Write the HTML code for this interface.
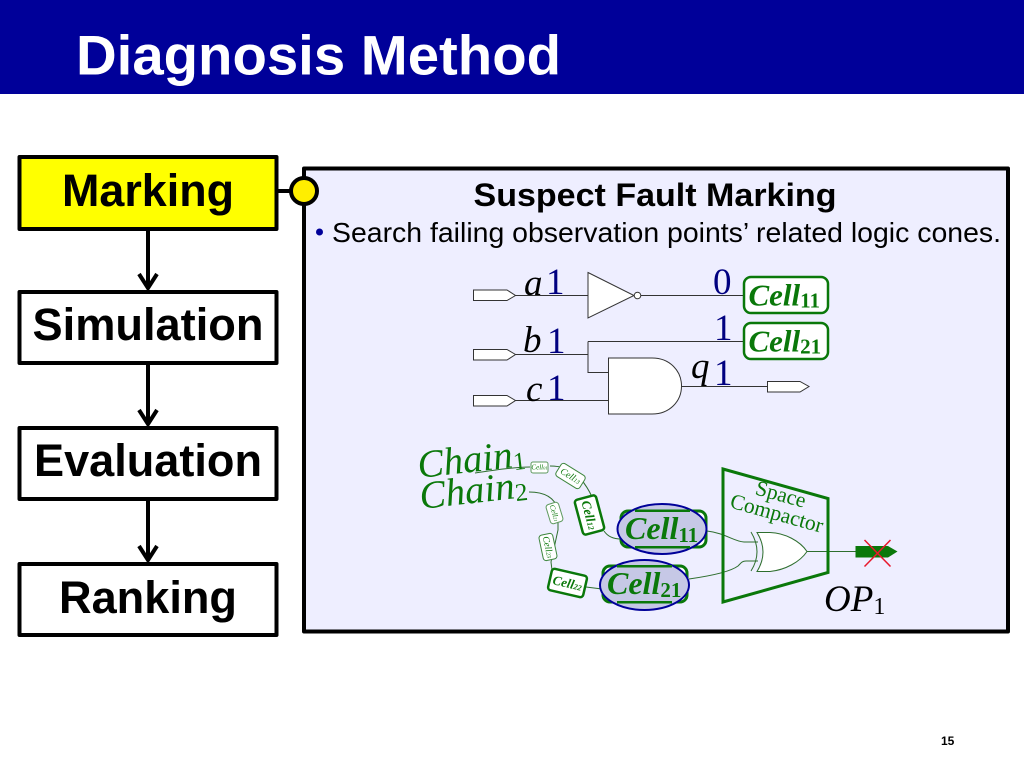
<!DOCTYPE html>
<html><head><meta charset="utf-8"><style>
html,body{margin:0;padding:0;background:#fff;width:1024px;height:768px;overflow:hidden}
svg{display:block}
.s{font-family:"Liberation Sans",sans-serif}
.r{font-family:"Liberation Serif",serif}
.i{font-family:"Liberation Serif",serif;font-style:italic}
.b{font-weight:bold}
.w{fill:none;stroke:#333;stroke-width:1}
.g{fill:none;stroke:#2e6e2e;stroke-width:1}
.c{fill:#fff;stroke:#0a780a}
.gt{fill:#0a780a}
</style></head><body>
<svg width="1024" height="768" viewBox="0 0 1024 768" xmlns="http://www.w3.org/2000/svg">
<rect x="0" y="0" width="1024" height="94" fill="#000099"/>
<text x="76" y="74.5" class="s b" font-size="56" fill="#fff" textLength="485" lengthAdjust="spacingAndGlyphs">Diagnosis Method</text>

<!-- flow -->
<g stroke="#000" stroke-width="4" fill="none">
<path d="M148 230V287M139 274L148 288L157 274"/>
<path d="M148 364V423M139 410L148 424L157 410"/>
<path d="M148 500V559M139 546L148 560L157 546"/>
<path d="M277 191H292"/>
</g>
<g stroke="#000" stroke-width="4" stroke-linejoin="round">
<rect x="19.5" y="157" width="257" height="72" fill="#ffff00"/>
<rect x="19.5" y="292" width="257" height="71" fill="#fff"/>
<rect x="19.5" y="428" width="257" height="71" fill="#fff"/>
<rect x="19.5" y="564" width="257" height="71" fill="#fff"/>
</g>
<g class="s b" font-size="45" text-anchor="middle" fill="#000">
<text x="148" y="206" textLength="172" lengthAdjust="spacingAndGlyphs">Marking</text>
<text x="148" y="340" textLength="231" lengthAdjust="spacingAndGlyphs">Simulation</text>
<text x="148" y="476" textLength="228" lengthAdjust="spacingAndGlyphs">Evaluation</text>
<text x="148" y="613" textLength="178" lengthAdjust="spacingAndGlyphs">Ranking</text>
</g>

<!-- panel -->
<rect x="304" y="168.5" width="704" height="463" fill="#eeeeff" stroke="#000" stroke-width="4" stroke-linejoin="round"/>
<circle cx="304" cy="191" r="13" fill="#ffee00" stroke="#000" stroke-width="4"/>
<text x="655" y="206" class="s b" font-size="32" text-anchor="middle" textLength="363" lengthAdjust="spacingAndGlyphs">Suspect Fault Marking</text>
<circle cx="319.5" cy="232" r="3.5" fill="#000099"/>
<text x="332" y="242" class="s" font-size="28" textLength="669" lengthAdjust="spacingAndGlyphs">Search failing observation points’ related logic cones.</text>

<!-- logic -->
<g class="w">
<path d="M515 295.5H588M641 295.5H743"/>
<path d="M515 354.5H588M588 341.5H743M588 341.5V372.5H608"/>
<path d="M515 400.5H608M682 386.5H767"/>
</g>
<g fill="#fff" stroke="#333" stroke-width="1">
<path d="M473.5 290H507L515.5 295.5L507 300.5H473.5Z"/>
<path d="M473.5 349.5H507L515.5 354.5L507 360H473.5Z"/>
<path d="M473.5 395.5H507L515.5 400.5L507 406H473.5Z"/>
<path d="M767.5 381.5H800L809 386.5L800 392H767.5Z"/>
<path d="M588 272.5L634 295.5L588 318Z"/>
<circle cx="637.5" cy="295.5" r="3.3"/>
<path d="M608.5 358H652C670 358 681.5 371 681.5 386C681.5 401 670 414 652 414H608.5Z"/>
</g>
<g class="i" font-size="37" fill="#000">
<text x="524" y="295">a</text>
<text x="523" y="352">b</text>
<text x="526" y="401">c</text>
<text x="691" y="378">q</text>
</g>
<g class="r" font-size="37" fill="#000080">
<text x="546" y="294">1</text>
<text x="547" y="353">1</text>
<text x="547" y="400">1</text>
<text x="713" y="294">0</text>
<text x="714" y="340">1</text>
<text x="714" y="385">1</text>
</g>
<g class="c" stroke-width="2.5">
<rect x="744" y="277" width="84" height="36" rx="7"/>
<rect x="744" y="323" width="84" height="36" rx="7"/>
</g>
<g class="i b gt" font-size="31">
<text x="748.5" y="305.5">Cell<tspan class="r" font-style="normal" font-size="21" dy="2">11</tspan></text>
<text x="748.5" y="351.5">Cell<tspan class="r" font-style="normal" font-size="21" dy="2">21</tspan></text>
</g>

<!-- chains -->
<g class="g">
<path d="M475 473C495 470 515 467 530 467M550 466C560 466 570 468 580 478C585 484 589 490 592 497"/>
<path d="M604 531C608 537 615 539 621 539"/>
<path d="M529 492C545 492 555 498 558 510V530L551 562L552 570"/>
<path d="M586 587L602 589"/>
<path d="M707 531C725 533 735 542 744 542H758"/>
<path d="M689 579C710 576 730 572 738 566C741 563 742 561 746 561H758"/>
<path d="M807 551.5H856"/>
</g>
<text transform="translate(419 478) rotate(-6.5)" class="i gt" font-size="39">Chain<tspan class="r" font-style="normal" font-size="25" dy="3">1</tspan></text>
<text transform="translate(421 509) rotate(-6.5)" class="i gt" font-size="39">Chain<tspan class="r" font-style="normal" font-size="25" dy="3">2</tspan></text>

<g transform="translate(539.5 467.5)">
<rect x="-8.5" y="-5.5" width="17" height="11" rx="2" fill="#fff" stroke="#5f9a5f" stroke-width="1"/>
<text y="2" text-anchor="middle" class="i gt" font-size="7">Cell<tspan font-size="4.5">01</tspan></text></g>
<g transform="translate(570.5 476) rotate(32)">
<rect x="-14" y="-7.5" width="28" height="15" rx="3" fill="#fff" stroke="#3d863d" stroke-width="1"/>
<text y="3" text-anchor="middle" class="i gt" font-size="9.5">Cell<tspan font-size="6">13</tspan></text></g>
<g transform="translate(589.5 515) rotate(75)">
<rect x="-18" y="-11" width="36" height="22" rx="3" class="c" stroke-width="2.5"/>
<text y="4.5" text-anchor="middle" class="i b gt" font-size="13">Cell<tspan font-size="8">12</tspan></text></g>
<g transform="translate(554.5 513) rotate(73)">
<rect x="-10" y="-6.5" width="20" height="13" rx="3" fill="#fff" stroke="#5f9a5f" stroke-width="1"/>
<text y="2.5" text-anchor="middle" class="i gt" font-size="7.5">Cell<tspan font-size="4.5">21</tspan></text></g>
<g transform="translate(548 547) rotate(78)">
<rect x="-13" y="-7" width="26" height="14" rx="3" fill="#fff" stroke="#3d863d" stroke-width="1"/>
<text y="3" text-anchor="middle" class="i gt" font-size="9.5">Cell<tspan font-size="6">23</tspan></text></g>
<g transform="translate(567.5 583) rotate(13)">
<rect x="-18" y="-11" width="36" height="22" rx="3" class="c" stroke-width="2.5"/>
<text y="4.5" text-anchor="middle" class="i b gt" font-size="13">Cell<tspan font-size="8">22</tspan></text></g>

<!-- highlighted cells -->
<g class="c" stroke-width="3">
<rect x="621" y="511" width="85" height="36" rx="7"/>
<rect x="603" y="566" width="84" height="36" rx="7"/>
</g>
<ellipse cx="662" cy="529" rx="44.5" ry="25" fill="#c6c8e6" stroke="#000099" stroke-width="2"/>
<ellipse cx="644.5" cy="585" rx="44.5" ry="25" fill="#c6c8e6" stroke="#000099" stroke-width="2"/>
<rect x="635" y="509.5" width="55" height="2.5" fill="#0a780a"/>
<rect x="635" y="546" width="55" height="2.5" fill="#0a780a"/>
<rect x="617" y="565" width="55" height="2.5" fill="#0a780a"/>
<rect x="617" y="601" width="55" height="2.5" fill="#0a780a"/>
<g class="i b gt" font-size="32">
<text x="625" y="539">Cell<tspan class="r" font-style="normal" font-size="21" dy="3">11</tspan></text>
<text x="607" y="594">Cell<tspan class="r" font-style="normal" font-size="21" dy="3">21</tspan></text>
</g>

<!-- compactor -->
<path d="M723 469L828 498.5V572.5L723 602Z" fill="none" stroke="#0a780a" stroke-width="3"/>
<path d="M751 532Q763 552 751 571" class="g"/>
<path d="M757 532.5H770C785 533 800 541 807 551.5C800 562 785 570 770 571.5H757Q769 552 757 532.5Z" fill="#fff" stroke="#2e6e2e" stroke-width="1"/>
<text transform="translate(779 501) rotate(15.5)" text-anchor="middle" class="r gt" font-size="21.5">Space</text>
<text transform="translate(775 520) rotate(15.5)" text-anchor="middle" class="r gt" font-size="21.5">Compactor</text>
<path d="M855.5 546H888L897.5 551.5L888 557.5H855.5Z" fill="#0a780a"/>
<path d="M864.5 540L890.5 566.5M890.5 540L864.5 566.5" stroke="#e8182c" stroke-width="1.5" fill="none"/>
<text x="824" y="611" class="i" font-size="37">OP<tspan class="r" font-style="normal" font-size="24" dy="3">1</tspan></text>

<text x="941" y="745" class="s b" font-size="12">15</text>
</svg>
</body></html>
